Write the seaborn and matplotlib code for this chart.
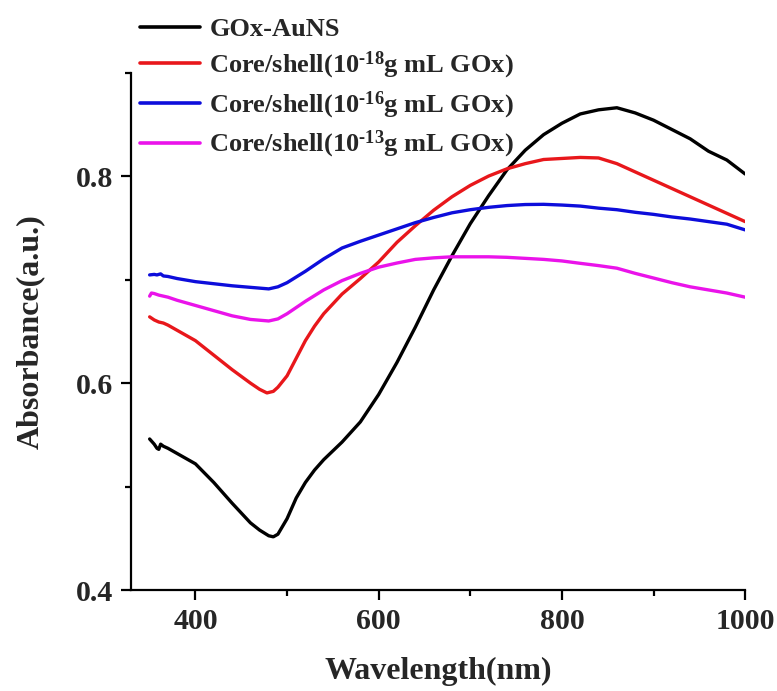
import matplotlib
matplotlib.use("Agg")
import matplotlib.pyplot as plt
from matplotlib.ticker import MultipleLocator
import seaborn as sns
import pandas as pd

# UV-vis absorbance spectra (wavelength in nm, absorbance in a.u.)
wl_aunS = [350, 355, 358, 360, 362, 365, 370, 380, 400, 420, 440, 460, 470, 480, 485,
           490, 500, 510, 520, 530, 540, 560, 580, 600, 620, 640, 660, 680, 700, 720,
           740, 760, 780, 800, 820, 840, 860, 880, 900, 920, 940, 960, 980, 1000]
abs_aunS = [0.546, 0.541, 0.537, 0.536, 0.541, 0.539, 0.537, 0.532, 0.522, 0.504, 0.484,
            0.465, 0.458, 0.4525, 0.4515, 0.454, 0.469, 0.489, 0.504, 0.516, 0.526, 0.543,
            0.5625, 0.589, 0.620, 0.654, 0.690, 0.723, 0.754, 0.781, 0.806, 0.825, 0.840,
            0.851, 0.860, 0.864, 0.866, 0.861, 0.854, 0.845, 0.836, 0.824, 0.8155, 0.802]

wl_18 = [350, 355, 360, 365, 370, 380, 400, 420, 440, 460, 470, 478, 485, 490, 500, 510,
         520, 530, 540, 560, 580, 600, 620, 640, 660, 680, 700, 720, 740, 760, 780, 800,
         820, 840, 860, 880, 900, 920, 940, 960, 980, 1000]
abs_18 = [0.664, 0.661, 0.659, 0.658, 0.656, 0.651, 0.641, 0.627, 0.613, 0.600, 0.594,
          0.5905, 0.592, 0.596, 0.607, 0.624, 0.641, 0.655, 0.667, 0.686, 0.701, 0.717,
          0.736, 0.752, 0.767, 0.780, 0.791, 0.800, 0.807, 0.812, 0.816, 0.817, 0.818,
          0.8175, 0.812, 0.804, 0.796, 0.788, 0.780, 0.772, 0.764, 0.756]

wl_16 = [350, 355, 358, 362, 365, 370, 380, 400, 420, 440, 460, 480, 490, 500, 520, 540,
         560, 580, 600, 620, 640, 660, 680, 700, 720, 740, 760, 780, 800, 820, 840, 860,
         880, 900, 920, 940, 960, 980, 1000]
abs_16 = [0.7045, 0.705, 0.7045, 0.7055, 0.7035, 0.703, 0.701, 0.698, 0.696, 0.694, 0.6925,
          0.691, 0.693, 0.697, 0.708, 0.720, 0.7305, 0.737, 0.743, 0.749, 0.755, 0.760,
          0.7645, 0.7675, 0.7698, 0.7715, 0.7725, 0.7727, 0.772, 0.771, 0.769, 0.7675,
          0.765, 0.763, 0.7605, 0.7585, 0.756, 0.7535, 0.748]

wl_13 = [350, 352, 355, 360, 370, 380, 400, 420, 440, 460, 480, 490, 500, 520, 540, 560,
         580, 600, 620, 640, 660, 680, 700, 720, 740, 760, 780, 800, 820, 840, 860, 880,
         900, 920, 940, 960, 980, 1000]
abs_13 = [0.684, 0.687, 0.6865, 0.685, 0.683, 0.680, 0.675, 0.670, 0.665, 0.6615, 0.660,
          0.662, 0.667, 0.679, 0.690, 0.699, 0.706, 0.712, 0.716, 0.7195, 0.721, 0.722,
          0.722, 0.722, 0.7215, 0.7205, 0.7195, 0.718, 0.7157, 0.7135, 0.711, 0.706,
          0.7015, 0.697, 0.693, 0.690, 0.687, 0.683]

labels = ["GOx-AuNS",
          r"Core/shell(10$^{\text{-18}}$g mL GOx)",
          r"Core/shell(10$^{\text{-16}}$g mL GOx)",
          r"Core/shell(10$^{\text{-13}}$g mL GOx)"]
colors = ["#000000", "#e8171b", "#0d0ddb", "#ea13ea"]

frames = []
for lab, wl, ab in zip(labels, [wl_aunS, wl_18, wl_16, wl_13],
                       [abs_aunS, abs_18, abs_16, abs_13]):
    frames.append(pd.DataFrame({"Wavelength": wl, "Absorbance": ab, "Sample": lab}))
df = pd.concat(frames, ignore_index=True)

sns.set_theme(style="ticks")
plt.rcParams["font.family"] = ["Liberation Serif", "DejaVu Serif"]
plt.rcParams["font.weight"] = "bold"
plt.rcParams["mathtext.fontset"] = "custom"
plt.rcParams["mathtext.rm"] = "Liberation Serif:bold"
plt.rcParams["mathtext.bf"] = "Liberation Serif:bold"
plt.rcParams["mathtext.it"] = "Liberation Serif:bold"

fig = plt.figure(figsize=(7.77, 6.91), dpi=100)
ax = fig.add_axes([0.169, 0.146, 0.790, 0.749])

sns.lineplot(data=df, x="Wavelength", y="Absorbance", hue="Sample",
             hue_order=labels, palette=colors, linewidth=2.4, ax=ax,
             sort=False, legend=False)

ax.set_xlim(330, 1000)
ax.set_ylim(0.4, 0.9)
ax.xaxis.set_major_locator(MultipleLocator(200))
ax.xaxis.set_minor_locator(MultipleLocator(100))
ax.yaxis.set_major_locator(MultipleLocator(0.2))
ax.yaxis.set_minor_locator(MultipleLocator(0.1))
ax.set_xticks([400, 600, 800, 1000])
ax.set_yticks([0.4, 0.6, 0.8])
ax.set_yticklabels(["0.4", "0.6", "0.8"])

for s in ["top", "right"]:
    ax.spines[s].set_visible(False)
for s in ["left", "bottom"]:
    ax.spines[s].set_linewidth(1.6)
    ax.spines[s].set_color("black")

ax.tick_params(which="major", direction="out", length=7, width=1.6,
               labelsize=21.5, color="black", pad=6)
ax.tick_params(which="minor", direction="out", length=4.5, width=1.6, color="black")
for lbl in ax.get_xticklabels() + ax.get_yticklabels():
    lbl.set_fontweight("bold")

ax.set_xlabel("Wavelength(nm)", fontsize=23, fontweight="bold", labelpad=16)
ax.set_ylabel("Absorbance(a.u.)", fontsize=23, fontweight="bold", labelpad=22)

handles = [plt.Line2D([], [], color=c, linewidth=2.6) for c in colors]
leg = fig.legend(handles, labels, loc="upper left", bbox_to_anchor=(0.166, 0.99),
                 frameon=False, prop={"family": "Liberation Serif", "weight": "bold", "size": 19},
                 handlelength=2.3, handletextpad=0.35, labelspacing=0.32, borderaxespad=0)

fig.savefig("out.png", dpi=100)
